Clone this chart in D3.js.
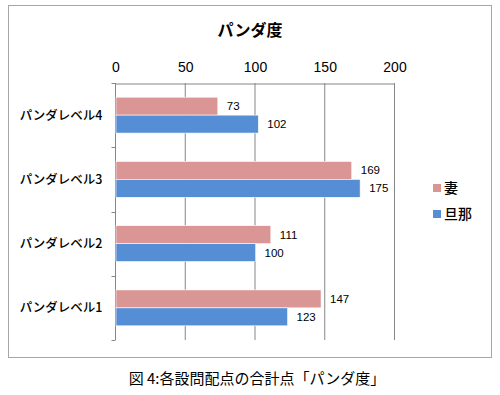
<!DOCTYPE html>
<html lang="ja">
<head>
  <meta charset="UTF-8">
  <title>パンダ度</title>
  <script src="https://d3js.org/d3.v7.min.js"></script>
  <style>
    body { margin: 0; background: #fff; }
    svg { font-family: "Noto Sans CJK JP", "Liberation Sans", sans-serif; }
  </style>
</head>
<body>
<svg id="chart" width="500" height="395"></svg>
<script>
  // Data
  const categories = ["パンダレベル4", "パンダレベル3", "パンダレベル2", "パンダレベル1"];
  const seriesNames = ["妻", "旦那"];
  const wifeValues = [73, 169, 111, 147];
  const husbandValues = [102, 175, 100, 123];
  const xTicks = [0, 50, 100, 150, 200];
  const colors = ["#D99694", "#558ED5"];

  const svg = d3.select("#chart");
  const margin = { top: 83, left: 115, right: 394, bottom: 340 };

  // Outer frame
  svg.append("rect")
     .attr("x", 8.5).attr("y", 5.5)
     .attr("width", 483).attr("height", 352)
     .attr("fill", "#fff")
     .attr("stroke", "#a6a6a6")
     .attr("stroke-width", 1);

  // Title
  svg.append("text")
     .attr("x", 250).attr("y", 36)
     .attr("text-anchor", "middle")
     .attr("font-size", 16).attr("font-weight", "bold")
     .text("パンダ度");

  const x = d3.scaleLinear().domain([0, 200]).range([margin.left, margin.right]);
  const y = d3.scaleBand().domain(categories).range([margin.top, margin.bottom]);
  const inner = d3.scaleBand().domain(seriesNames)
                  .range([0, y.bandwidth()]).paddingInner(0).paddingOuter(0.79);

  // Gridlines
  svg.append("g").selectAll("line")
     .data(xTicks)
     .join("line")
     .attr("x1", d => x(d) + 0.5).attr("x2", d => x(d) + 0.5)
     .attr("y1", margin.top).attr("y2", margin.bottom)
     .attr("stroke", "#868686").attr("stroke-width", 1);

  // Top axis
  const xAxis = svg.append("g")
     .attr("transform", `translate(0.5, ${margin.top + 0.5})`)
     .call(d3.axisTop(x).tickValues(xTicks).tickSize(0).tickPadding(12));
  xAxis.select(".domain").attr("stroke", "#868686");
  xAxis.selectAll("text")
     .attr("font-size", 14).attr("fill", "#000")
     .attr("font-family", "Liberation Sans, sans-serif");

  // Left axis
  const yAxis = svg.append("g")
     .attr("transform", `translate(${margin.left + 0.5}, 0)`);
  yAxis.append("line")
     .attr("y1", margin.top).attr("y2", margin.bottom)
     .attr("stroke", "#868686");
  const boundaries = categories.map(c => y(c)).concat([margin.bottom]);
  yAxis.selectAll("line.tick")
     .data(boundaries)
     .join("line")
     .attr("class", "tick")
     .attr("x1", -4).attr("x2", 0)
     .attr("y1", d => Math.round(d) + 0.5).attr("y2", d => Math.round(d) + 0.5)
     .attr("stroke", "#868686");
  yAxis.selectAll("text")
     .data(categories)
     .join("text")
     .attr("x", -13)
     .attr("y", d => y(d) + y.bandwidth() / 2)
     .attr("dy", "0.35em")
     .attr("text-anchor", "end")
     .attr("font-size", 12.5)
     .attr("font-weight", 500)
     .text(d => d);

  // Bars
  const rows = categories.map((c, i) => ({
    category: c,
    values: [
      { name: seriesNames[0], value: wifeValues[i], color: colors[0] },
      { name: seriesNames[1], value: husbandValues[i], color: colors[1] }
    ]
  }));

  const groups = svg.append("g").selectAll("g")
     .data(rows)
     .join("g")
     .attr("transform", d => `translate(0, ${y(d.category)})`);

  groups.selectAll("rect")
     .data(d => d.values)
     .join("rect")
     .attr("x", x(0) + 1)
     .attr("y", d => inner(d.name))
     .attr("width", d => x(d.value) - x(0))
     .attr("height", inner.bandwidth())
     .attr("fill", d => d.color)
     .attr("stroke", "#fff")
     .attr("stroke-width", 0.6);

  groups.selectAll("text")
     .data(d => d.values)
     .join("text")
     .attr("x", d => x(d.value) + 10)
     .attr("y", d => inner(d.name) + inner.bandwidth() / 2)
     .attr("dy", "0.35em")
     .attr("font-size", 11.5)
     .attr("font-family", "Liberation Sans, sans-serif")
     .text(d => d.value);

  // Legend
  const legend = svg.append("g").selectAll("g")
     .data(seriesNames)
     .join("g")
     .attr("transform", (d, i) => `translate(433, ${188 + i * 26})`);
  legend.append("rect")
     .attr("x", 0).attr("y", -4)
     .attr("width", 8).attr("height", 8)
     .attr("fill", (d, i) => colors[i]);
  legend.append("text")
     .attr("x", 11).attr("dy", "0.35em")
     .attr("font-size", 14)
     .attr("font-weight", 500)
     .text(d => d);

  // Caption
  svg.append("text")
     .attr("x", 257).attr("y", 384)
     .attr("text-anchor", "middle")
     .attr("font-size", 15)
     .text("図 4:各設問配点の合計点「パンダ度」");
</script>
</body>
</html>
